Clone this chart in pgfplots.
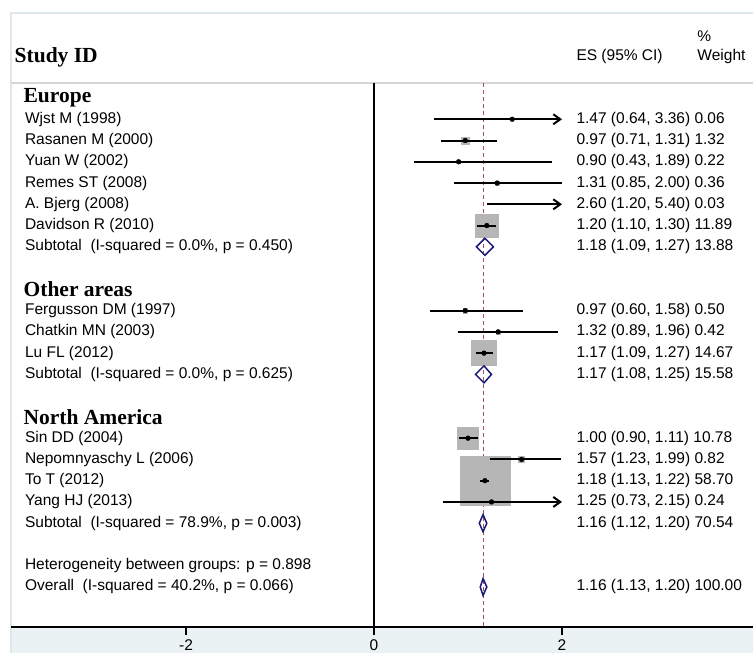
\documentclass[border=0pt]{standalone}
\usepackage{fontspec}
\setmainfont{Liberation Sans}
\newfontfamily\hdrfont{Liberation Serif}
\usepackage{pgfplots}
\usepackage{pgfplotstable}
\pgfplotsset{compat=1.18}
\usetikzlibrary{arrows.meta}

\definecolor{boxgray}{RGB}{182,182,182}
\definecolor{dnavy}{RGB}{24,24,120}
\definecolor{dashred}{RGB}{160,80,90}
\definecolor{regblue}{RGB}{234,242,243}
\definecolor{frameblue}{RGB}{222,232,236}
\definecolor{sepgray}{RGB}{212,214,216}

% row: 0 = first group header; one row = 21.26 px
\pgfplotstableread{
row es lo hi w
1 1.47 0.64 3.36 0.06
2 0.97 0.71 1.31 1.32
3 0.90 0.43 1.89 0.22
4 1.31 0.85 2.00 0.36
5 2.60 1.20 5.40 0.03
6 1.20 1.10 1.30 11.89
10 0.97 0.60 1.58 0.50
11 1.32 0.89 1.96 0.42
12 1.17 1.09 1.27 14.67
16 1.00 0.90 1.11 10.78
17 1.57 1.23 1.99 0.82
18 1.18 1.13 1.22 58.70
19 1.25 0.73 2.15 0.24
}\studies

\newcommand{\rt}{\fontsize{15.5bp}{18bp}\selectfont}
\newcommand{\hd}{\hdrfont\bfseries\fontsize{21.5bp}{24bp}\selectfont}

\begin{document}
\begin{tikzpicture}
\begin{axis}[
  set layers,
  width=753bp, height=653bp, scale only axis,
  axis lines=none, xtick=\empty, ytick=\empty,
  xmin=-3.979, xmax=4.032,
  y dir=reverse, ymin=-4.61, ymax=26.105,
  clip=false,
  every node/.style={inner sep=0pt, outer sep=0pt},
  ci/.style={black, line width=2bp, mark=none},
  ciarrow/.style={ci, -{Straight Barb[length=7bp, width=10bp]}},
  pooled/.style={dnavy, line width=1.5bp, mark=none},
]
\begin{pgfonlayer}{axis background}
% graph region / plot region
\fill[regblue] (axis cs:-3.862,-3.998) rectangle (axis cs:4.032,26.105);
\draw[frameblue, line width=1.5bp] (axis cs:-3.862,26.105) -- (axis cs:-3.862,-3.998) -- (axis cs:4.032,-3.998);
\fill[white] (axis cs:-3.85,-3.96) rectangle (axis cs:4.032,24.88);
% header separator
\draw[sepgray, line width=2bp] (axis cs:-3.862,-0.706) -- (axis cs:4.032,-0.706);
\end{pgfonlayer}

% null line and overall line
\addplot[on layer=axis background, black, line width=1.3bp] coordinates {(0,-0.706) (0,24.88)};
\addplot[on layer=axis background, dashred, line width=1bp, dash pattern=on 4bp off 3bp] coordinates {(1.16,-0.706) (1.16,24.88)};

% weight boxes
\addplot[on layer=axis grid, mark layer=axis grid, scatter, only marks, mark=square*,
  scatter/use mapped color={draw=boxgray, fill=boxgray},
  restrict x to domain=-2:2,
  visualization depends on={3.265*sqrt(\thisrow{w}) \as \msz},
  scatter/@pre marker code/.append style={/tikz/mark size=\msz}]
  table[x=es, y=row]{\studies};

% confidence intervals (clipped at 2 with an arrow)
\addplot[ciarrow] coordinates {(0.64,1) (2,1)};
\addplot[ci] coordinates {(0.71,2) (1.31,2)};
\addplot[ci] coordinates {(0.43,3) (1.89,3)};
\addplot[ci] coordinates {(0.85,4) (2.00,4)};
\addplot[ciarrow] coordinates {(1.20,5) (2,5)};
\addplot[ci] coordinates {(1.10,6) (1.30,6)};
\addplot[ci] coordinates {(0.60,10) (1.58,10)};
\addplot[ci] coordinates {(0.89,11) (1.96,11)};
\addplot[ci] coordinates {(1.09,12) (1.27,12)};
\addplot[ci] coordinates {(0.90,16) (1.11,16)};
\addplot[ci] coordinates {(1.23,17) (1.99,17)};
\addplot[ci] coordinates {(1.13,18) (1.22,18)};
\addplot[ciarrow] coordinates {(0.73,19) (2,19)};

% point estimates
\addplot[only marks, mark=*, mark size=2.4bp, black, restrict x to domain=-2:2]
  table[x=es, y=row]{\studies};

% pooled estimates (diamonds)
\addplot[pooled] coordinates {(1.09,7) (1.18,6.6) (1.27,7) (1.18,7.4)} -- cycle;
\addplot[pooled] coordinates {(1.08,13) (1.17,12.6) (1.25,13) (1.17,13.4)} -- cycle;
\addplot[pooled] coordinates {(1.12,20) (1.16,19.6) (1.20,20) (1.16,20.4)} -- cycle;
\addplot[pooled] coordinates {(1.13,23) (1.16,22.6) (1.20,23) (1.16,23.4)} -- cycle;

% x axis
\draw[black, line width=2bp] (axis cs:-3.862,24.88) -- (axis cs:4.032,24.88);
\draw[black, line width=1.3bp] (axis cs:-2,24.88) -- (axis cs:-2,25.28);
\draw[black, line width=1.3bp] (axis cs:0,24.88) -- (axis cs:0,25.28);
\draw[black, line width=1.3bp] (axis cs:2,24.88) -- (axis cs:2,25.28);
\node[anchor=base] at (axis cs:-2,26.0) {\rt -2};
\node[anchor=base] at (axis cs:0,26.0) {\rt 0};
\node[anchor=base] at (axis cs:2,26.0) {\rt 2};

% headers
\node[anchor=west] at (axis cs:-3.86,-1.93) {\hd Study ID};
\node[anchor=west] at (axis cs:2.117,-1.93) {\rt ES (95\% CI)};
\node[anchor=west] at (axis cs:3.404,-1.93) {\rt Weight};
\node[anchor=west] at (axis cs:3.404,-2.92) {\rt \%};

% left labels
\node[anchor=west] at (axis cs:-3.765,0) {\hd Europe};
\node[anchor=west] at (axis cs:-3.75,1) {\rt Wjst M (1998)};
\node[anchor=west] at (axis cs:-3.75,2) {\rt Rasanen M (2000)};
\node[anchor=west] at (axis cs:-3.75,3) {\rt Yuan W (2002)};
\node[anchor=west] at (axis cs:-3.75,4) {\rt Remes ST (2008)};
\node[anchor=west] at (axis cs:-3.75,5) {\rt A. Bjerg (2008)};
\node[anchor=west] at (axis cs:-3.75,6) {\rt Davidson R (2010)};
\node[anchor=west] at (axis cs:-3.75,7) {\rt Subtotal\ \ (I-squared = 0.0\%, p = 0.450)};
\node[anchor=west] at (axis cs:-3.765,9) {\hd Other areas};
\node[anchor=west] at (axis cs:-3.75,10) {\rt Fergusson DM (1997)};
\node[anchor=west] at (axis cs:-3.75,11) {\rt Chatkin MN (2003)};
\node[anchor=west] at (axis cs:-3.75,12) {\rt Lu FL (2012)};
\node[anchor=west] at (axis cs:-3.75,13) {\rt Subtotal\ \ (I-squared = 0.0\%, p = 0.625)};
\node[anchor=west] at (axis cs:-3.765,15) {\hd North America};
\node[anchor=west] at (axis cs:-3.75,16) {\rt Sin DD (2004)};
\node[anchor=west] at (axis cs:-3.75,17) {\rt Nepomnyaschy L (2006)};
\node[anchor=west] at (axis cs:-3.75,18) {\rt To T (2012)};
\node[anchor=west] at (axis cs:-3.75,19) {\rt Yang HJ (2013)};
\node[anchor=west] at (axis cs:-3.75,20) {\rt Subtotal\ \ (I-squared = 78.9\%, p = 0.003)};
\node[anchor=west] at (axis cs:-3.75,22) {\rt Heterogeneity between groups: p = 0.898};
\node[anchor=west] at (axis cs:-3.75,23) {\rt Overall\ \ (I-squared = 40.2\%, p = 0.066)};

% right labels
\node[anchor=west] at (axis cs:2.117,1) {\rt 1.47 (0.64, 3.36) 0.06};
\node[anchor=west] at (axis cs:2.117,2) {\rt 0.97 (0.71, 1.31) 1.32};
\node[anchor=west] at (axis cs:2.117,3) {\rt 0.90 (0.43, 1.89) 0.22};
\node[anchor=west] at (axis cs:2.117,4) {\rt 1.31 (0.85, 2.00) 0.36};
\node[anchor=west] at (axis cs:2.117,5) {\rt 2.60 (1.20, 5.40) 0.03};
\node[anchor=west] at (axis cs:2.117,6) {\rt 1.20 (1.10, 1.30) 11.89};
\node[anchor=west] at (axis cs:2.117,7) {\rt 1.18 (1.09, 1.27) 13.88};
\node[anchor=west] at (axis cs:2.117,10) {\rt 0.97 (0.60, 1.58) 0.50};
\node[anchor=west] at (axis cs:2.117,11) {\rt 1.32 (0.89, 1.96) 0.42};
\node[anchor=west] at (axis cs:2.117,12) {\rt 1.17 (1.09, 1.27) 14.67};
\node[anchor=west] at (axis cs:2.117,13) {\rt 1.17 (1.08, 1.25) 15.58};
\node[anchor=west] at (axis cs:2.117,16) {\rt 1.00 (0.90, 1.11) 10.78};
\node[anchor=west] at (axis cs:2.117,17) {\rt 1.57 (1.23, 1.99) 0.82};
\node[anchor=west] at (axis cs:2.117,18) {\rt 1.18 (1.13, 1.22) 58.70};
\node[anchor=west] at (axis cs:2.117,19) {\rt 1.25 (0.73, 2.15) 0.24};
\node[anchor=west] at (axis cs:2.117,20) {\rt 1.16 (1.12, 1.20) 70.54};
\node[anchor=west] at (axis cs:2.117,23) {\rt 1.16 (1.13, 1.20) 100.00};
\end{axis}
\pgfresetboundingbox
\path[use as bounding box] (current axis.south west) rectangle (current axis.north east);
\end{tikzpicture}
\end{document}
